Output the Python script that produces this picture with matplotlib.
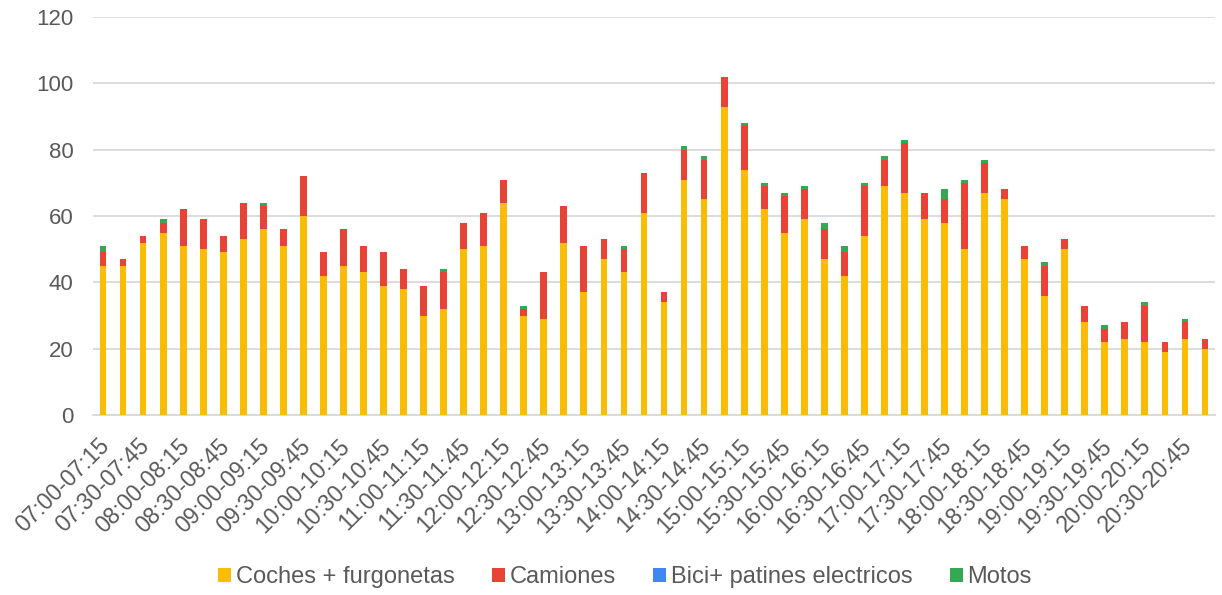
import matplotlib
matplotlib.use("Agg")
import matplotlib.pyplot as plt
import numpy as np
from matplotlib.patches import Patch
from matplotlib.transforms import ScaledTranslation

plt.rcParams['font.family'] = ['Liberation Sans', 'DejaVu Sans']

start_times = ["07:00", "07:15", "07:30", "07:45", "08:00", "08:15", "08:30", "08:45",
               "09:00", "09:15", "09:30", "09:45", "10:00", "10:15", "10:30", "10:45",
               "11:00", "11:15", "11:30", "11:45", "12:00", "12:15", "12:30", "12:45",
               "13:00", "13:15", "13:30", "13:45", "14:00", "14:15", "14:30", "14:45",
               "15:00", "15:15", "15:30", "15:45", "16:00", "16:15", "16:30", "16:45",
               "17:00", "17:15", "17:30", "17:45", "18:00", "18:15", "18:30", "18:45",
               "19:00", "19:15", "19:30", "19:45", "20:00", "20:15", "20:30", "20:45"]
end_times = start_times[1:] + ["21:00"]
categories = [f"{a}-{b}" for a, b in zip(start_times, end_times)]

coches = [45, 45, 52, 55, 51, 50, 49, 53, 56, 51, 60, 42, 45, 43, 39, 38,
          30, 32, 50, 51, 64, 30, 29, 52, 37, 47, 43, 61, 34, 71, 65, 93,
          74, 62, 55, 59, 47, 42, 54, 69, 67, 59, 58, 50, 67, 65, 47, 36,
          50, 28, 22, 23, 22, 19, 23, 20]
camiones = [4, 2, 2, 3, 11, 9, 5, 11, 7, 5, 12, 7, 11, 8, 10, 6,
            9, 11, 8, 10, 7, 2, 14, 11, 14, 6, 7, 12, 3, 9, 12, 9,
            13, 7, 11, 9, 9, 7, 15, 8, 15, 8, 7, 20, 9, 3, 4, 9,
            3, 5, 4, 5, 11, 3, 5, 3]
bici = [0] * 56
motos = [2, 0, 0, 1, 0, 0, 0, 0, 1, 0, 0, 0, 0, 0, 0, 0,
         0, 1, 0, 0, 0, 1, 0, 0, 0, 0, 1, 0, 0, 1, 1, 0,
         1, 1, 1, 1, 2, 2, 1, 1, 1, 0, 3, 1, 1, 0, 0, 1,
         0, 0, 1, 0, 1, 0, 1, 0]

series_names = ["Coches + furgonetas", "Camiones", "Bici+ patines electricos", "Motos"]
colors = ["#FBBC04", "#EA4335", "#4285F4", "#34A853"]

text_color = "#595959"
grid_color = "#D9D9D9"

fig = plt.figure(figsize=(12.22, 5.95), dpi=100)
ax = fig.add_axes([93 / 1222, 1 - 415 / 595, (1215 - 93) / 1222, (415 - 17) / 595])

x = np.arange(len(categories))
bottom = np.zeros(len(categories))
for vals, col in zip([coches, camiones, bici, motos], colors):
    v = np.array(vals, dtype=float)
    ax.bar(x, v, width=0.34, bottom=bottom, color=col, zorder=3, linewidth=0)
    bottom += v

ax.set_xlim(-0.5, len(categories) - 0.5)
ax.set_ylim(0, 120)
ax.set_yticks(np.arange(0, 121, 20))
ax.yaxis.grid(True, color=grid_color, linewidth=1.3, zorder=0)
ax.set_axisbelow(True)
for s in ["top", "right", "left"]:
    ax.spines[s].set_visible(False)
ax.spines["bottom"].set_color(grid_color)
ax.spines["bottom"].set_linewidth(1.3)
ax.tick_params(axis="y", length=0, labelsize=16, colors=text_color, pad=14)
ax.tick_params(axis="x", length=0, labelsize=16.5, colors=text_color, pad=6)

ax.set_xticks(x[::2])
ax.set_xticklabels(categories[::2], rotation=45, ha="right", rotation_mode="anchor",
                   fontsize=16.5, color=text_color)
offset = ScaledTranslation(-5 / 100, -11 / 100, fig.dpi_scale_trans)
for lab in ax.get_xticklabels():
    lab.set_transform(lab.get_transform() + offset)

handles = [Patch(facecolor=c, edgecolor="none") for c in colors]
fig.legend(handles, series_names, loc="center", bbox_to_anchor=(0.5115, 1 - 577 / 595),
           ncol=4, frameon=False, fontsize=17, labelcolor=text_color,
           handlelength=0.53, handleheight=0.53, handletextpad=0.2, columnspacing=1.6)

fig.savefig("out.png", dpi=100)
